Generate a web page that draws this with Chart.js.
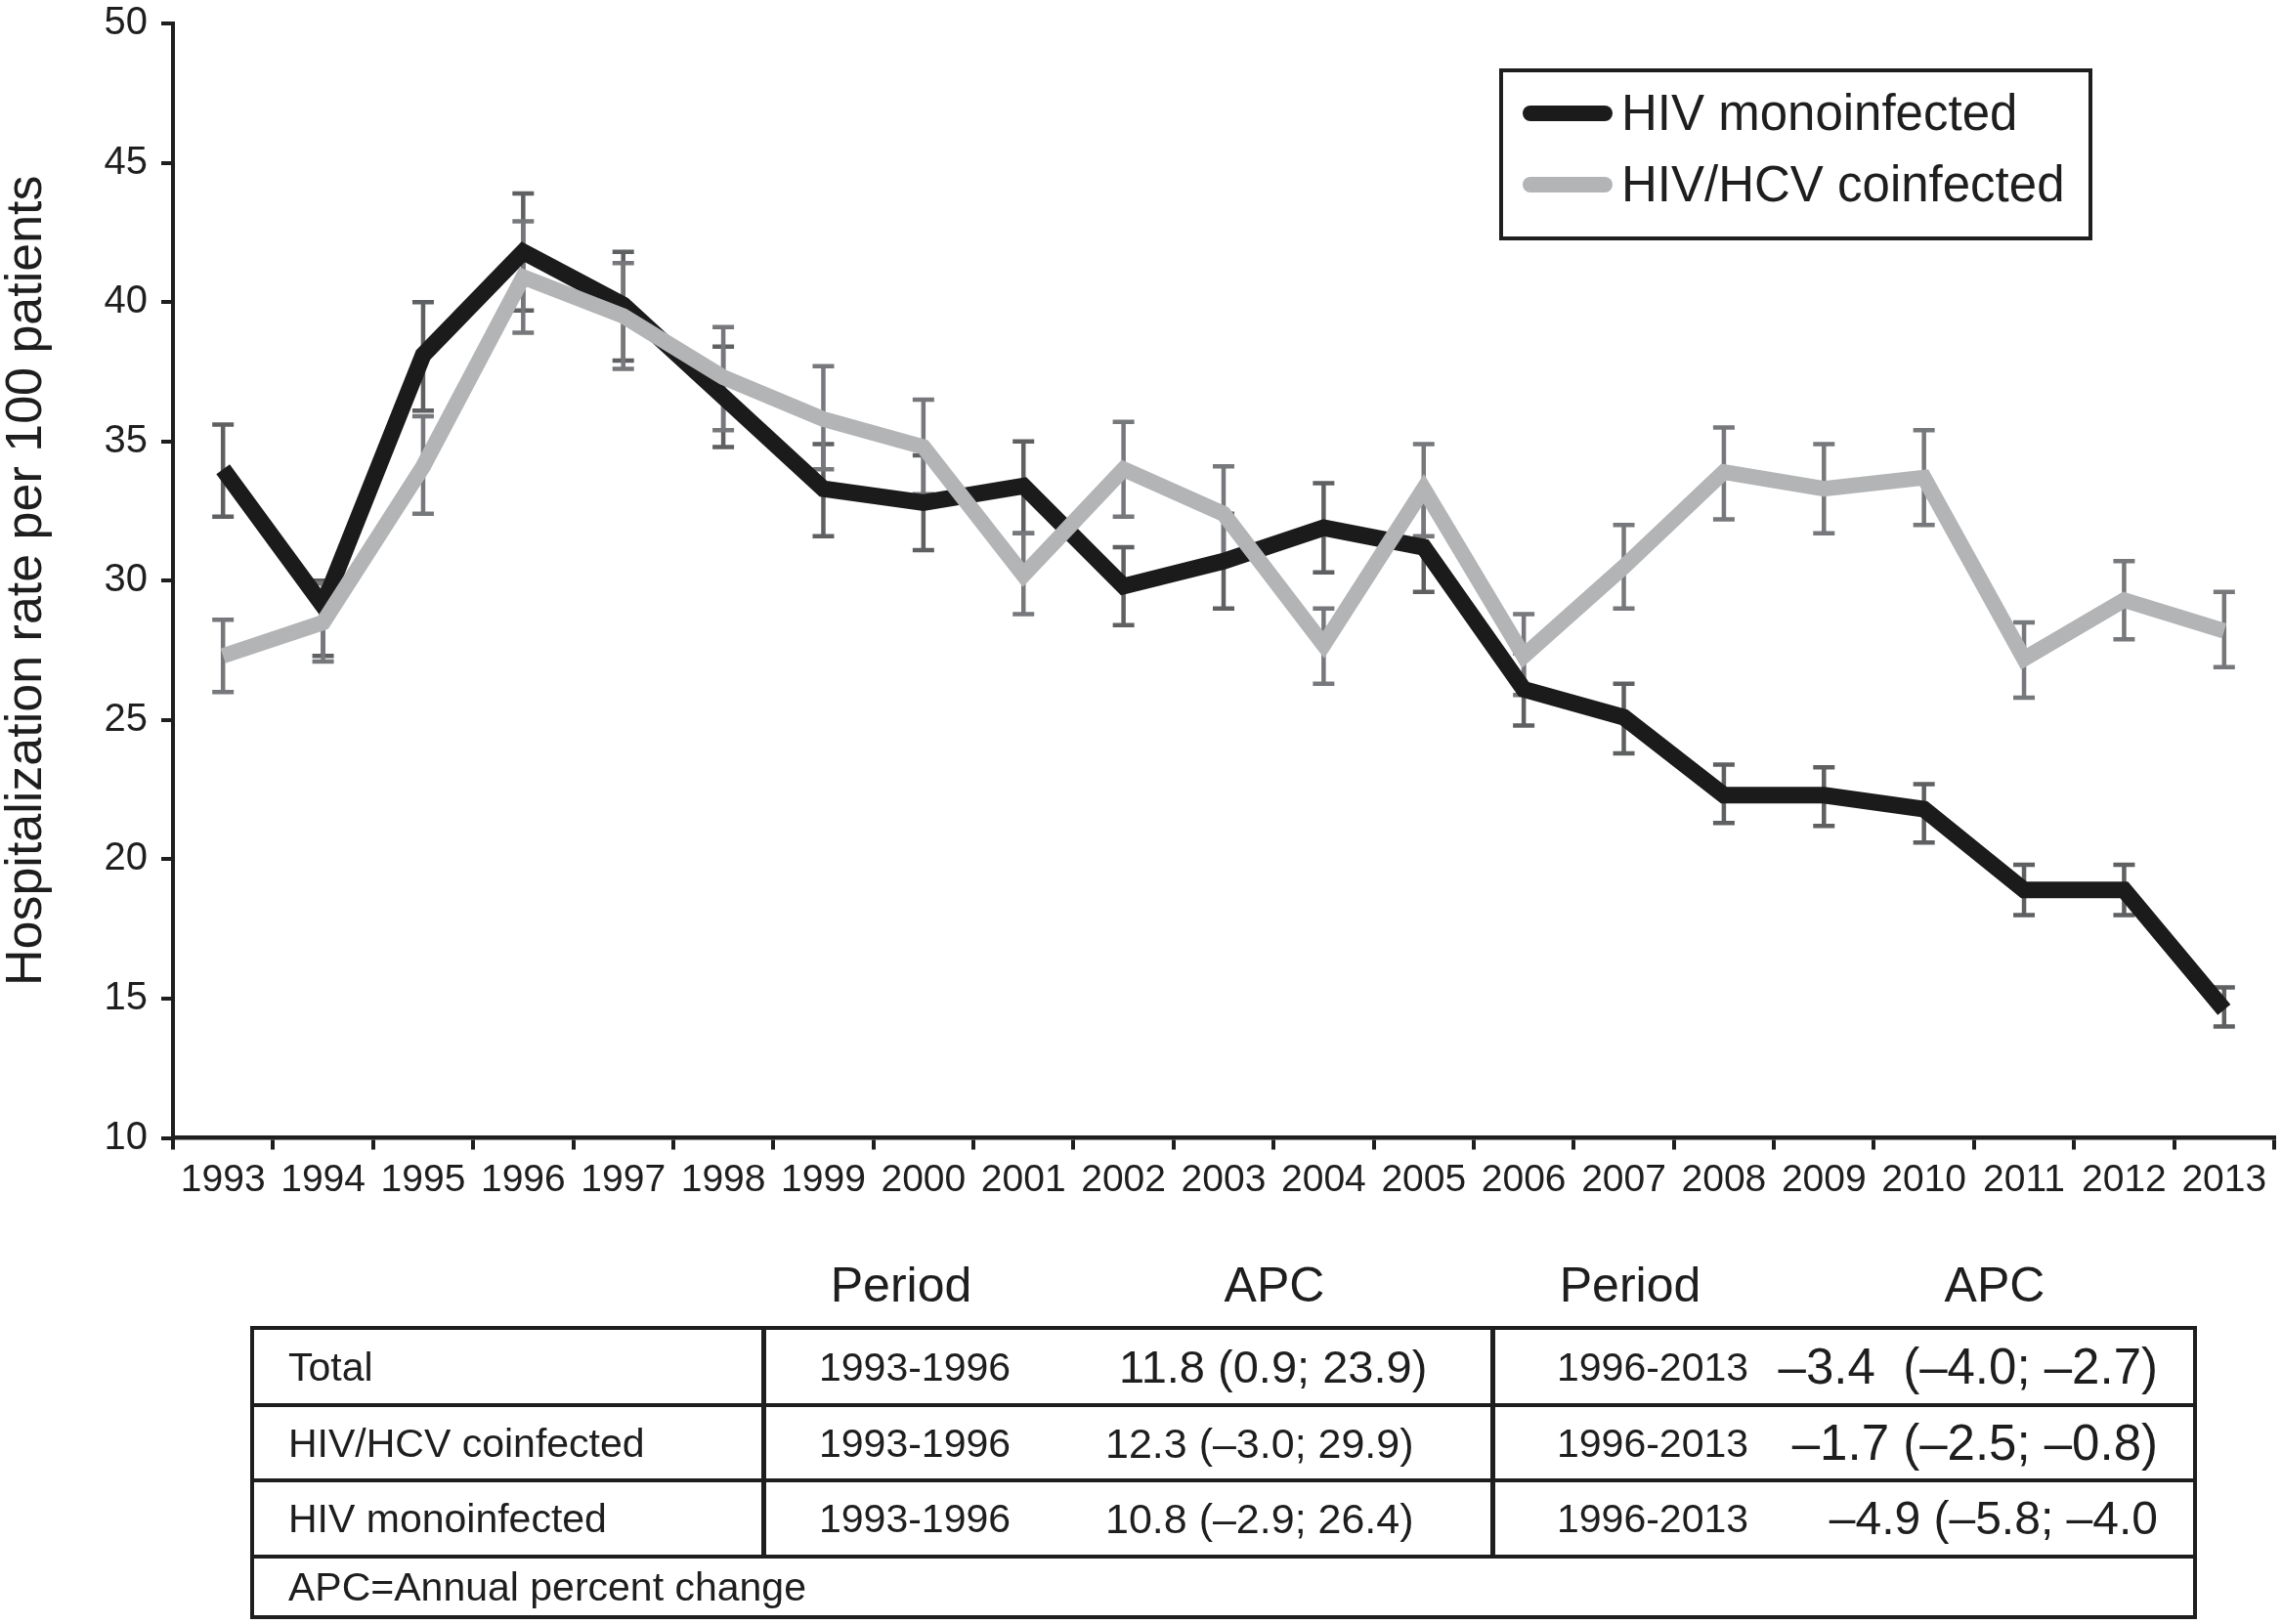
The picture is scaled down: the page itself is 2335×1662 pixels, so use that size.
<!DOCTYPE html>
<html>
<head>
<meta charset="utf-8">
<script src="https://cdn.jsdelivr.net/npm/chart.js@4.4.1/dist/chart.umd.min.js"></script>
<style>
html,body{margin:0;padding:0;background:#fff;}
#wrap{position:relative;width:2335px;height:1662px;overflow:hidden;font-family:'Liberation Sans',Arial,Helvetica,sans-serif;color:#1e1e1e;background:#fff;}
#chart{position:absolute;left:0;top:0;}
.legend{position:absolute;left:1534px;top:70px;width:607px;height:176px;border:4px solid #1e1e1e;box-sizing:border-box;background:#fff;}
.sw{position:absolute;width:92px;height:16px;border-radius:8px;}
.lt{position:absolute;font-size:51px;line-height:60px;height:60px;white-space:nowrap;}
.row{position:absolute;left:256px;width:1992px;border:4px solid #1e1e1e;box-sizing:border-box;}
.div{position:absolute;top:-4px;bottom:-4px;width:5px;background:#1e1e1e;}
.cell{position:absolute;font-size:41px;line-height:50px;height:50px;white-space:nowrap;}
.hdr{position:absolute;font-size:50px;line-height:60px;height:60px;transform:translateX(-50%);top:1285px;white-space:nowrap;}
</style>
</head>
<body>
<div id="wrap">
  <canvas id="chart" width="2335" height="1662"></canvas>
  <div class="legend" id="legend"></div>
  <div id="table"></div>
</div>
<script>
// ---- data ----
const years = ['1993','1994','1995','1996','1997','1998','1999','2000','2001','2002','2003','2004','2005','2006','2007','2008','2009','2010','2011','2012','2013'];
const monoRate = [34.0, 29.1, 38.1, 41.8, 39.9, 36.6, 33.3, 32.8, 33.4, 29.8, 30.7, 31.9, 31.2, 26.1, 25.1, 22.3, 22.3, 21.8, 18.9, 18.9, 14.6];
const monoLow  = [32.3, 27.3, 36.1, 39.7, 37.9, 34.8, 31.6, 31.1, 31.7, 28.4, 29.0, 30.3, 29.6, 24.8, 23.8, 21.3, 21.2, 20.6, 18.0, 18.0, 14.0];
const monoHigh = [35.6, 30.0, 40.0, 43.9, 41.8, 38.4, 34.9, 34.5, 35.0, 31.2, 32.4, 33.5, 32.9, 27.4, 26.3, 23.4, 23.3, 22.7, 19.8, 19.8, 15.4];
const coRate = [27.3, 28.5, 34.1, 40.9, 39.5, 37.3, 35.8, 34.8, 30.2, 34.0, 32.4, 27.7, 33.3, 27.3, 30.5, 33.9, 33.3, 33.7, 27.2, 29.3, 28.2];
const coLow  = [26.0, 27.1, 32.4, 38.9, 37.6, 35.4, 34.0, 33.1, 28.8, 32.3, 30.8, 26.3, 31.6, 25.9, 29.0, 32.2, 31.7, 32.0, 25.8, 27.9, 26.9];
const coHigh = [28.6, 29.9, 35.9, 42.9, 41.4, 39.1, 37.7, 36.5, 31.7, 35.7, 34.1, 29.0, 34.9, 28.8, 32.0, 35.5, 34.9, 35.4, 28.5, 30.7, 29.6];
const seriesNames = ['HIV monoinfected', 'HIV/HCV coinfected'];
const yTitle = 'Hospitalization rate per 100 patients';

// table data
const tableHeaders = ['Period', 'APC', 'Period', 'APC'];
const tableGroups = ['Total', 'HIV/HCV coinfected', 'HIV monoinfected'];
const period1 = ['1993-1996', '1993-1996', '1993-1996'];
const apc1 = ['11.8 (0.9; 23.9)', '12.3 (\u20133.0; 29.9)', '10.8 (\u20132.9; 26.4)'];
const period2 = ['1996-2013', '1996-2013', '1996-2013'];
const apc2 = ['\u20133.4\u00a0 (\u20134.0; \u20132.7)', '\u20131.7 (\u20132.5; \u20130.8)', '\u20134.9 (\u20135.8; \u20134.0'];
const tableNote = 'APC=Annual percent change';

const BLACK = '#1b1b1b', GRAY = '#b3b4b6', INK = '#1e1e1e';

// ---- error bars plugin ----
const errorBars = {
  id: 'errorBars',
  beforeDatasetsDraw(chart) {
    const ctx = chart.ctx, xs = chart.scales.x, ys = chart.scales.y;
    const sets = [
      {low: monoLow, high: monoHigh, color: '#5f6062'},
      {low: coLow, high: coHigh, color: '#77787b'}
    ];
    ctx.save();
    ctx.lineCap = 'butt';
    sets.forEach(s => {
      ctx.strokeStyle = s.color;
      ctx.lineWidth = 4.5;
      years.forEach((yr, i) => {
        const px = xs.getPixelForValue(i);
        const yl = ys.getPixelForValue(s.low[i]);
        const yh = ys.getPixelForValue(s.high[i]);
        ctx.beginPath();
        ctx.moveTo(px, yl); ctx.lineTo(px, yh);
        ctx.moveTo(px - 11, yl); ctx.lineTo(px + 11, yl);
        ctx.moveTo(px - 11, yh); ctx.lineTo(px + 11, yh);
        ctx.stroke();
      });
    });
    ctx.restore();
  }
};

Chart.defaults.font.family = "'Liberation Sans', Arial, Helvetica, sans-serif";
Chart.defaults.color = INK;

new Chart(document.getElementById('chart'), {
  type: 'line',
  data: {
    labels: years,
    datasets: [
      {label: seriesNames[1], data: coRate, borderColor: GRAY, backgroundColor: GRAY, borderWidth: 16,
       pointRadius: 0, tension: 0, fill: false, borderJoinStyle: 'miter', borderCapStyle: 'butt'},
      {label: seriesNames[0], data: monoRate, borderColor: BLACK, backgroundColor: BLACK, borderWidth: 17,
       pointRadius: 0, tension: 0, fill: false, borderJoinStyle: 'miter', borderCapStyle: 'butt'}
    ]
  },
  options: {
    responsive: false,
    animation: false,
    devicePixelRatio: 1,
    layout: {padding: {left: 0, top: 24, right: 8, bottom: 427.5}},
    plugins: {legend: {display: false}, tooltip: {enabled: false}},
    scales: {
      x: {
        type: 'category',
        offset: true,
        grid: {display: true, offset: true, drawOnChartArea: false, drawTicks: true, tickLength: 12, lineWidth: 4, color: INK},
        border: {display: true, width: 4.5, color: INK},
        ticks: {font: {size: 39}, color: INK, padding: 8, maxRotation: 0, autoSkip: false},
        afterFit: s => { s.height = 70; s.paddingLeft = 0; s.paddingRight = 0; }
      },
      y: {
        min: 10, max: 50,
        grid: {display: true, drawOnChartArea: false, drawTicks: true, tickLength: 12, lineWidth: 4, color: INK},
        border: {display: true, width: 4, color: INK},
        ticks: {stepSize: 5, font: {size: 40}, color: INK, padding: 14},
        title: {display: true, text: yTitle, font: {size: 52, lineHeight: 1.05}, color: INK, padding: {top: 0, bottom: 0}},
        afterFit: s => { s.width = 177; s.paddingTop = 0; s.paddingBottom = 0; }
      }
    }
  },
  plugins: [errorBars]
});

// ---- legend (HTML) ----
const legend = document.getElementById('legend');
[[seriesNames[0], BLACK, 42], [seriesNames[1], GRAY, 115]].forEach(([name, col, cy]) => {
  const sw = document.createElement('div');
  sw.className = 'sw'; sw.style.background = col;
  sw.style.left = '20px'; sw.style.top = (cy - 8) + 'px';
  legend.appendChild(sw);
  const t = document.createElement('div');
  t.className = 'lt'; t.textContent = name;
  t.style.left = '121px'; t.style.top = (cy - 30) + 'px';
  legend.appendChild(t);
});

// ---- table (HTML) ----
const table = document.getElementById('table');
const hdrX = [922, 1304, 1668, 2041];
tableHeaders.forEach((h, i) => {
  const d = document.createElement('div');
  d.className = 'hdr'; d.textContent = h; d.style.left = hdrX[i] + 'px';
  table.appendChild(d);
});
const rowTops = [1357, 1436, 1513, 1591];
const rowHeights = [83, 81, 82, 66];
function cell(row, text, left, size, align) {
  const c = document.createElement('div');
  c.className = 'cell'; c.textContent = text;
  c.style.fontSize = size + 'px';
  const h = parseFloat(row.style.height) - 8;
  c.style.top = ((h - 50) / 2) + 'px';
  if (align === 'right') { c.style.right = left + 'px'; } else { c.style.left = left + 'px'; }
  row.appendChild(c);
}
const apc2Size = [51, 51, 48];
for (let r = 0; r < 4; r++) {
  const row = document.createElement('div');
  row.className = 'row';
  row.style.top = rowTops[r] + 'px';
  row.style.height = rowHeights[r] + 'px';
  table.appendChild(row);
  if (r < 3) {
    [519, 1265].forEach(x => {
      const dv = document.createElement('div');
      dv.className = 'div'; dv.style.left = x + 'px';
      row.appendChild(dv);
    });
    cell(row, tableGroups[r], 35, 41);
    cell(row, period1[r], 578, 41);
    cell(row, apc1[r], r === 0 ? 885 : 871, r === 0 ? 47 : 43);
    cell(row, period2[r], 1333, 41);
    cell(row, apc2[r], 36, apc2Size[r], 'right');
  } else {
    cell(row, tableNote, 35, 41);
  }
}
</script>
</body>
</html>
